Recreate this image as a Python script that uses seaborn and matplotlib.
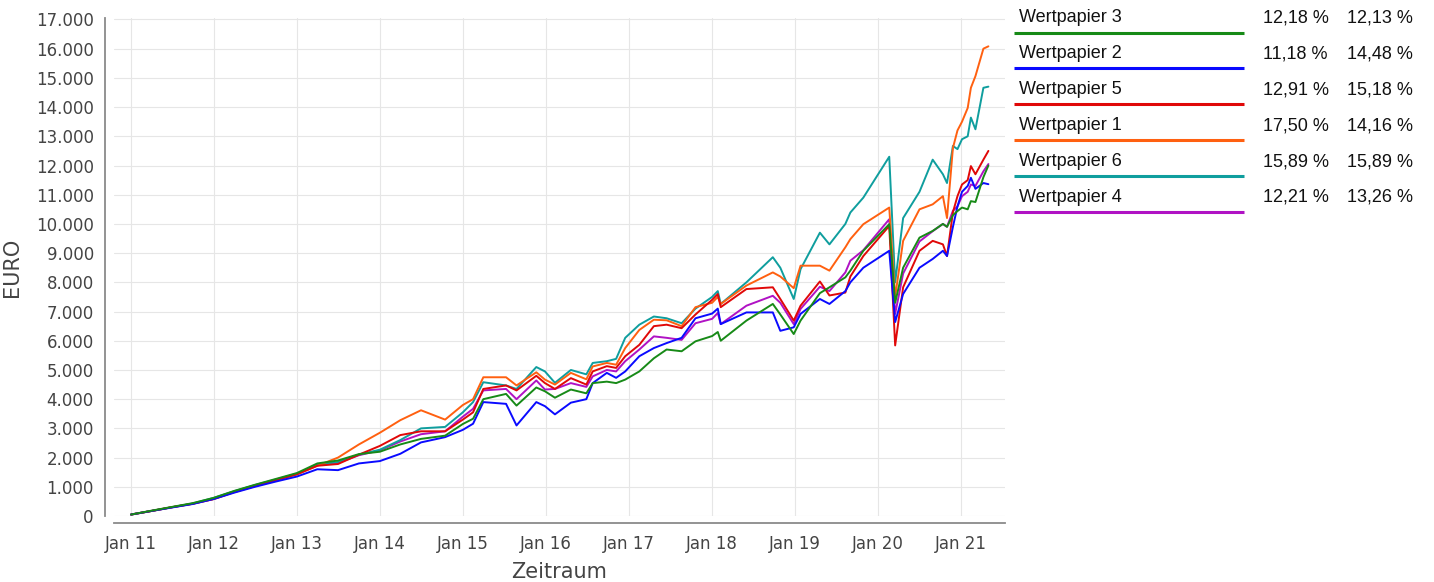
import numpy as np
import pandas as pd
import matplotlib
matplotlib.use("Agg")
import matplotlib.pyplot as plt
import matplotlib.dates as mdates
from matplotlib.ticker import FuncFormatter, MultipleLocator
import seaborn as sns

# --- data (EURO) ---
dates = [
    "2011-01-03", "2011-04-01", "2011-07-01", "2011-10-01", "2012-01-01",
    "2012-04-01", "2012-07-01", "2012-10-01", "2013-01-01", "2013-04-01",
    "2013-07-01", "2013-10-01", "2014-01-01", "2014-04-01", "2014-07-01",
    "2014-10-15", "2015-01-01", "2015-02-15", "2015-04-01", "2015-07-10",
    "2015-08-25", "2015-11-20", "2015-12-28", "2016-02-10", "2016-04-20",
    "2016-06-27", "2016-07-25", "2016-09-25", "2016-11-05", "2016-12-15",
    "2017-02-15", "2017-04-20", "2017-06-15", "2017-08-20", "2017-10-20",
    "2018-01-01", "2018-01-26", "2018-02-08", "2018-06-01", "2018-09-25",
    "2018-10-28", "2018-12-26", "2019-01-25", "2019-04-20", "2019-06-01",
    "2019-08-10", "2019-09-01", "2019-10-28", "2020-02-19", "2020-03-16",
    "2020-04-20", "2020-07-01", "2020-08-28", "2020-10-12", "2020-10-30",
    "2020-11-25", "2020-12-15", "2021-01-04", "2021-01-29", "2021-02-12",
    "2021-03-04", "2021-04-08", "2021-04-30",
]

wp1 = [50, 170, 300, 420, 580, 820, 1020, 1220, 1420, 1720,
       2000, 2450, 2850, 3280, 3620, 3300, 3800, 4000, 4750, 4750,
       4470, 4920, 4670, 4500, 4900, 4680, 5120, 5240, 5180, 5750,
       6370, 6720, 6700, 6500, 7150, 7300, 7500, 7260, 7890, 8340,
       8200, 7800, 8570, 8570, 8400, 9200, 9480, 9990, 10560, 7500,
       9420, 10500, 10670, 10950, 10200, 12600, 13200, 13500, 13970, 14660,
       15060, 16000, 16080]
wp2 = [50, 170, 290, 410, 580, 800, 1000, 1180, 1350, 1600,
       1570, 1800, 1880, 2130, 2520, 2700, 2950, 3160, 3900, 3840,
       3100, 3900, 3760, 3480, 3880, 4000, 4550, 4900, 4730, 4950,
       5470, 5750, 5920, 6100, 6770, 6930, 7100, 6570, 6970, 6970,
       6340, 6460, 6920, 7430, 7260, 7700, 8000, 8500, 9080, 6640,
       7600, 8500, 8800, 9080, 8900, 9900, 10600, 11100, 11300, 11580,
       11200, 11400, 11360]
wp3 = [50, 180, 310, 440, 620, 860, 1070, 1270, 1470, 1800,
       1900, 2120, 2200, 2450, 2640, 2750, 3150, 3330, 4000, 4180,
       3780, 4400, 4270, 4050, 4330, 4200, 4550, 4600, 4550, 4670,
       4950, 5400, 5700, 5640, 5980, 6160, 6300, 6000, 6690, 7260,
       6900, 6230, 6690, 7630, 7830, 8170, 8400, 9080, 9990, 7300,
       8500, 9530, 9760, 10000, 9900, 10300, 10440, 10560, 10500, 10780,
       10750, 11600, 12000]
wp4 = [50, 170, 300, 420, 600, 840, 1050, 1240, 1440, 1740,
       1820, 2080, 2250, 2550, 2800, 2900, 3400, 3670, 4300, 4350,
       4000, 4640, 4330, 4350, 4550, 4420, 4780, 5000, 4950, 5300,
       5700, 6150, 6100, 6030, 6600, 6750, 6950, 6570, 7200, 7540,
       7300, 6570, 7090, 7850, 7700, 8340, 8740, 9100, 10160, 6920,
       8300, 9400, 9750, 10000, 9900, 10450, 10600, 10950, 11100, 11350,
       11300, 11800, 12050]
wp5 = [50, 170, 300, 420, 580, 820, 1030, 1230, 1430, 1720,
       1780, 2100, 2400, 2770, 2900, 2900, 3300, 3550, 4350, 4470,
       4300, 4800, 4550, 4350, 4720, 4500, 4950, 5130, 5070, 5470,
       5860, 6500, 6550, 6430, 6900, 7400, 7600, 7150, 7770, 7830,
       7430, 6690, 7200, 8030, 7550, 7650, 8200, 8900, 9930, 5840,
       7830, 9080, 9420, 9300, 8900, 10400, 10950, 11350, 11500, 11980,
       11700, 12200, 12500]
wp6 = [50, 170, 300, 430, 620, 850, 1060, 1250, 1450, 1750,
       1850, 2100, 2270, 2600, 3000, 3050, 3550, 3900, 4580, 4470,
       4350, 5100, 4950, 4560, 5000, 4850, 5240, 5300, 5380, 6100,
       6550, 6830, 6770, 6600, 7100, 7500, 7700, 7260, 8000, 8860,
       8500, 7430, 8450, 9700, 9300, 10000, 10390, 10900, 12300, 8000,
       10200, 11100, 12200, 11700, 11400, 12670, 12560, 12900, 13000, 13640,
       13240, 14660, 14700]

names = ["Wertpapier 3", "Wertpapier 2", "Wertpapier 5",
         "Wertpapier 1", "Wertpapier 6", "Wertpapier 4"]
rendite = ["12,18 %", "11,18 %", "12,91 %", "17,50 %", "15,89 %", "12,21 %"]
volatil = ["12,13 %", "14,48 %", "15,18 %", "14,16 %", "15,89 %", "13,26 %"]
colors = {
    "Wertpapier 1": "#ff6010",
    "Wertpapier 2": "#0a0aff",
    "Wertpapier 3": "#178a17",
    "Wertpapier 4": "#b012c4",
    "Wertpapier 5": "#e00808",
    "Wertpapier 6": "#0f9e9e",
}

df = pd.DataFrame({
    "Datum": pd.to_datetime(dates),
    "Wertpapier 1": wp1, "Wertpapier 2": wp2, "Wertpapier 3": wp3,
    "Wertpapier 4": wp4, "Wertpapier 5": wp5, "Wertpapier 6": wp6,
})
long = df.melt(id_vars="Datum", var_name="Wertpapier", value_name="EURO")

sns.set_theme(style="whitegrid")
plt.rcParams["font.family"] = ["DejaVu Sans"]

fig = plt.figure(figsize=(14.34, 5.82), dpi=100)
ax = fig.add_axes([114 / 1434, 66 / 582, 891 / 1434, 498 / 582])

# draw order: green ends up on top
sns.lineplot(data=long, x="Datum", y="EURO", hue="Wertpapier",
             hue_order=names[::-1], palette=colors, lw=1.4,
             legend=False, ax=ax)

ax.set_xlim(pd.Timestamp("2010-10-20"), pd.Timestamp("2021-07-12"))
ax.set_ylim(0, 17050)
ax.yaxis.set_major_locator(MultipleLocator(1000))
ax.yaxis.set_major_formatter(
    FuncFormatter(lambda v, _: f"{v:,.0f}".replace(",", ".")))
ax.xaxis.set_major_locator(mdates.YearLocator())
ax.xaxis.set_major_formatter(mdates.DateFormatter("%b %y"))

ax.grid(True, color="#e6e6e6", lw=0.8)
ax.set_facecolor("white")
sns.despine(ax=ax, offset={"left": 6.5, "bottom": 5})
for side in ("left", "bottom"):
    ax.spines[side].set_color("#8a8a8a")
    ax.spines[side].set_linewidth(1.3)
ax.tick_params(axis="both", colors="#8a8a8a", length=4, width=1.2,
               labelsize=12, labelcolor="#444444", pad=4)
ax.tick_params(axis="x", pad=5)

ax.set_xlabel("Zeitraum", fontsize=15, color="#444444", labelpad=6)
ax.set_ylabel("EURO", fontsize=15, color="#444444", labelpad=10)

# legend table on the right, in pixel coordinates
lg = fig.add_axes([1000 / 1434, 352 / 582, 434 / 1434, 230 / 582])
lg.set_xlim(1000, 1434)
lg.set_ylim(230, 0)
lg.axis("off")
for i, (name, r, v) in enumerate(zip(names, rendite, volatil)):
    y = 18 + i * 35.9
    lg.text(1019, y, name, fontsize=13, family="Liberation Sans",
            color="#111111", va="center")
    lg.text(1263, y, r, fontsize=13, family="Liberation Sans",
            color="#111111", va="center")
    lg.text(1347, y, v, fontsize=13, family="Liberation Sans",
            color="#111111", va="center")
    lg.plot([1014, 1244], [y + 14.5, y + 14.5], color=colors[name],
            lw=2.2, solid_capstyle="butt")

fig.savefig("out.png", dpi=100)
plt.close(fig)
